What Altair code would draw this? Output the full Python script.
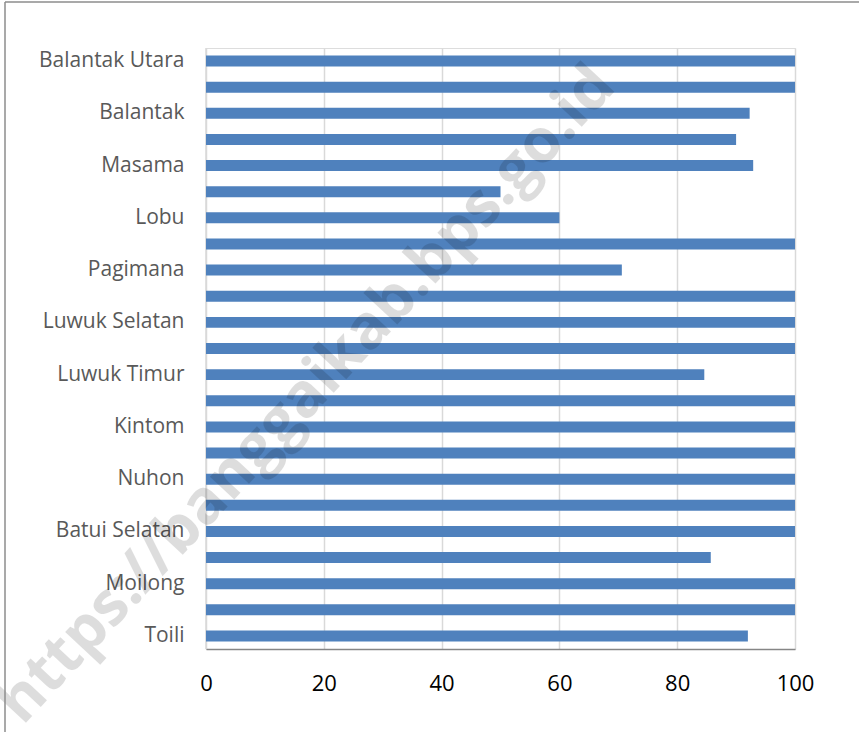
import altair as alt
import pandas as pd

# Districts, bottom to top as they appear on the axis
districts = [
    "Toili", "Toili Barat", "Moilong", "Batui", "Batui Selatan", "Bunta",
    "Nuhon", "Simpang Raya", "Kintom", "Luwuk", "Luwuk Timur", "Luwuk Utara",
    "Luwuk Selatan", "Nambo", "Pagimana", "Bualemo", "Lobu", "Lamala",
    "Masama", "Mantoh", "Balantak", "Balantak Selatan", "Balantak Utara",
]
values = [
    92.0, 100, 100, 85.7, 100, 100,
    100, 100, 100, 100, 84.6, 100,
    100, 100, 70.6, 100, 60.0, 50.0,
    92.9, 90.0, 92.3, 100, 100,
]
# Every other district name is printed on the axis
shown_labels = districts[::2]
x_ticks = [0, 20, 40, 60, 80, 100]
watermark = "https://banggaikab.bps.go.id"

df = pd.DataFrame({"district": districts, "value": values})
order_top_down = list(reversed(districts))

label_list = "[" + ",".join("'" + s + "'" for s in shown_labels) + "]"

bars = alt.Chart(df).mark_bar(color="#4f81bd").encode(
    x=alt.X(
        "value:Q",
        scale=alt.Scale(domain=[0, 100], nice=False),
        axis=alt.Axis(
            values=x_ticks, title=None, ticks=False, labelFontSize=22,
            labelColor="#000000", labelPadding=24, labelFont="Open Sans",
            labelFlush=False,
            domainColor="#868686", domainWidth=1.5,
            gridColor="#d9d9d9", gridWidth=1.5,
        ),
    ),
    y=alt.Y(
        "district:N",
        sort=order_top_down,
        scale=alt.Scale(paddingInner=0.58, paddingOuter=0.29),
        axis=alt.Axis(
            title=None, ticks=False, grid=False, domain=False,
            labelFontSize=21, labelColor="#595959", labelPadding=22,
            labelFont="Open Sans",
            labelExpr="indexof(" + label_list + ", datum.value) >= 0 ? datum.value : ''",
            labelOverlap=False,
        ),
    ),
)

# Vertical line at zero
zero_line = alt.Chart(pd.DataFrame({"v": [0]})).mark_rule(
    color="#d9d9d9", strokeWidth=1.5
).encode(x="v:Q")

mark_df = pd.DataFrame({"t": [watermark]})
wm = alt.Chart(mark_df).mark_text(
    angle=313, fontSize=61, fontWeight="bold", font="Open Sans",
    color="#000000", opacity=0.13, align="center", baseline="middle",
).encode(text="t:N", x=alt.value(101), y=alt.value(347))

frame_top = alt.Chart(mark_df).mark_rule(color="#8c8c8c", strokeWidth=1.5).encode(
    x=alt.value(-201), x2=alt.value(660), y=alt.value(-46)
)
frame_left = alt.Chart(mark_df).mark_rule(color="#8c8c8c", strokeWidth=1.5).encode(
    x=alt.value(-201), y=alt.value(-46), y2=alt.value(700)
)

chart = alt.layer(zero_line, bars, wm, frame_top, frame_left).properties(
    width=589, height=601,
    autosize=alt.AutoSizeParams(type="none"),
    padding={"left": 206, "top": 48, "right": 64, "bottom": 83},
).configure_view(stroke=None).configure(background="#ffffff")

chart.save("out.html", embed_options={"renderer": "svg", "actions": False})
